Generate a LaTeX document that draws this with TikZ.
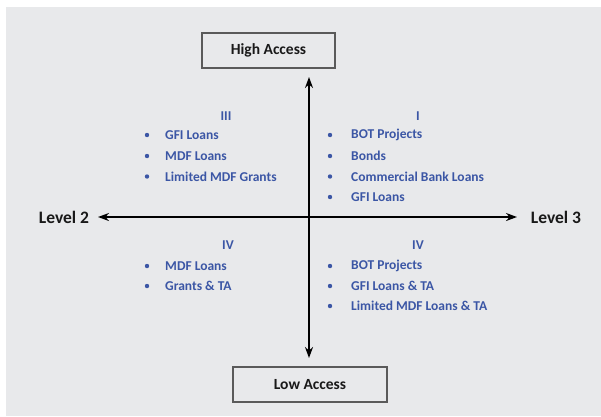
\documentclass[tikz,border=0pt]{standalone}
\usepackage{fontspec}
\setmainfont{Carlito}
\usetikzlibrary{arrows.meta}
\definecolor{bg}{HTML}{E8E9EB}
\definecolor{qblue}{HTML}{3B56A5}
\definecolor{boxline}{HTML}{5A5A5A}
\tikzset{
  accbox/.style={draw=boxline, line width=1.3pt, fill=bg, minimum height=35pt, inner sep=0pt, font=\fontsize{15.5}{17}\selectfont\bfseries, text=black!90},
  axis/.style={line width=1.8pt, {Stealth[length=11pt,width=8pt]}-{Stealth[length=11pt,width=8pt]}},
  lvl/.style={font=\fontsize{17.5}{19}\selectfont\bfseries, text=black!90, inner sep=0pt},
  qhead/.style={font=\fontsize{13.5}{15}\selectfont\bfseries, text=qblue, inner sep=0pt},
  item/.style={font=\fontsize{13.5}{15}\selectfont\bfseries, text=qblue, anchor=west, inner sep=0pt},
  dot/.style={circle, fill=qblue, inner sep=0pt, minimum size=4.4pt}
}
\begin{document}
\begin{tikzpicture}[x=1pt,y=-1pt]
\useasboundingbox (0,0) rectangle (601,416);
\fill[bg] (6,7) rectangle (601,416);
% boxes
\node[accbox, minimum width=133pt] (hi) at (268.5,50.5) {High Access};
\node[accbox, minimum width=154pt] (lo) at (310,384.5) {Low Access};
% axes
\coordinate (top) at (309,77);
\coordinate (bot) at (309,358);
\coordinate (lft) at (98,217);
\coordinate (rgt) at (517,217);
\draw[axis] (bot) -- (top);
\draw[axis] (lft) -- (rgt);
\node[lvl] (l2) at (64,217) {Level 2};
\node[lvl] (l3) at (556,217) {Level 3};
% quadrant III
\node[qhead] (q3) at (226,116) {III};
\node[dot] (b31) at (147,135) {}; \node[item] (t31) at (165,135) {GFI Loans};
\node[dot] (b32) at (147,156) {}; \node[item] (t32) at (165,156) {MDF Loans};
\node[dot] (b33) at (147,176.5) {}; \node[item] (t33) at (165,176.5) {Limited MDF Grants};
% quadrant I
\node[qhead] (q1) at (418,116) {I};
\node[dot] (b11) at (330,135) {}; \node[item] (t11) at (351,135) {BOT Projects};
\node[dot] (b12) at (330,156) {}; \node[item] (t12) at (351,156) {Bonds};
\node[dot] (b13) at (330,176.5) {}; \node[item] (t13) at (351,176.5) {Commercial Bank Loans};
\node[dot] (b14) at (330,197) {}; \node[item] (t14) at (351,197) {GFI Loans};
% quadrant IV left
\node[qhead] (q4a) at (228,245) {IV};
\node[dot] (b41) at (147,266) {}; \node[item] (t41) at (165,266) {MDF Loans};
\node[dot] (b42) at (147,286) {}; \node[item] (t42) at (165,286) {Grants \& TA};
% quadrant IV right
\node[qhead] (q4b) at (418,245) {IV};
\node[dot] (b51) at (330,266) {}; \node[item] (t51) at (351,266) {BOT Projects};
\node[dot] (b52) at (330,286) {}; \node[item] (t52) at (351,286) {GFI Loans \& TA};
\node[dot] (b53) at (330,306) {}; \node[item] (t53) at (351,306) {Limited MDF Loans \& TA};
\end{tikzpicture}
\end{document}
